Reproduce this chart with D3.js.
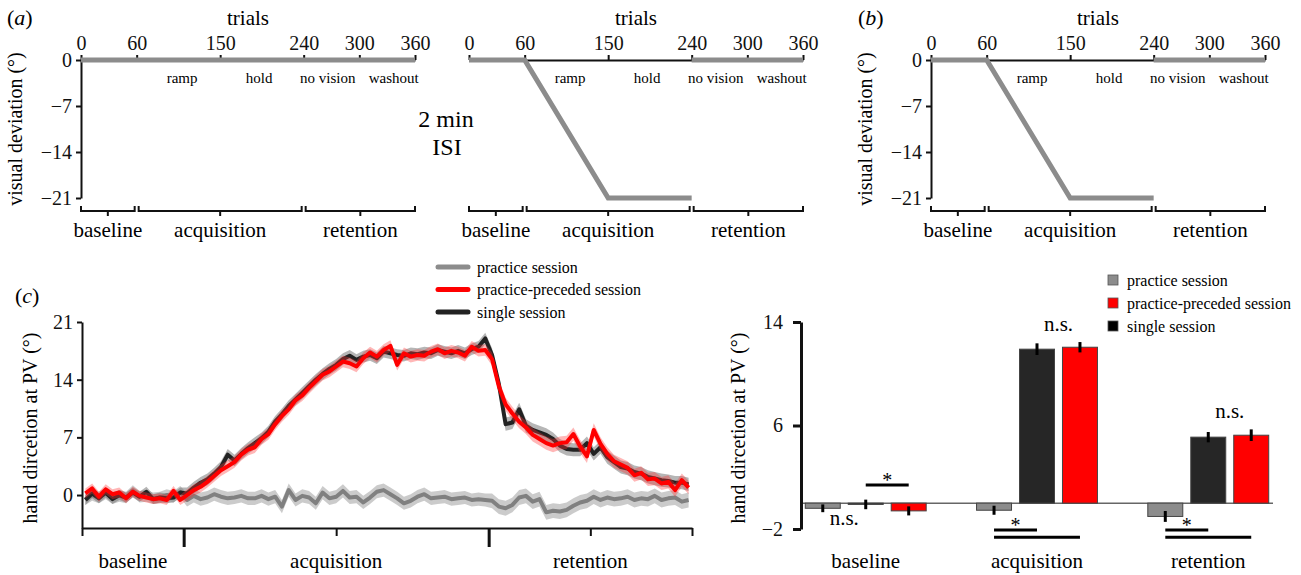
<!DOCTYPE html>
<html>
<head>
<meta charset="utf-8">
<script src="https://cdn.jsdelivr.net/npm/d3@7"></script>
<style>
  body { margin: 0; background: #fff; }
  svg { display: block; font-family: 'Liberation Serif', 'DejaVu Serif', serif; }
</style>
</head>
<body>
<div id="fig"></div>
<script>
// ---------- data ----------
const trialTicks = [0, 60, 150, 240, 300, 360];
const devTicks = [0, -7, -14, -21];
const phaseNames = ["ramp", "hold", "no vision", "washout"];
const phaseAt = [109, 192, 266, 337];          // trial under which each phase name sits
const blockNames = ["baseline", "acquisition", "retention"];
const blockEdges = [0, 60, 240, 360];
const blockMid = [30, 150, 300];

// visual deviation schedules (trial, degrees)
const flatTrials = [0, 360];
const flatDev = [0, 0];
const rampTrials = [0, 60, 150, 240];
const rampDev = [0, 0, -21, -21];
const washTrials = [240, 360];
const washDev = [0, 0];

// hand direction at PV, 4-trial bins (90 bins over 360 trials)
const binSize = 4;
const practice = [
  -0.5, 0.0, -0.3, 0.2, -0.4, -0.1, -0.3, 0.5, -0.2, -0.1, -0.4, -0.3, 0.0, -0.2, 0.4,
  -0.6, -0.1, -0.5, -0.3, 0.1, -0.2, -0.4, -0.3, -0.1, -0.4, -0.4, -0.1, -0.5, -0.2, -1.4, 0.6, -0.6, -0.1, -0.3, -1.0, 0.3, -0.4,
  -0.2, 0.5, -0.3, -0.2, -0.9, -0.3, 0.4, 0.6, 0.1, -0.4, -1.0, -0.7, -0.2, 0.1, -0.4, -0.3, -0.2, -0.5, -0.4, -0.3, -0.6, -0.5, -0.6,
  -0.7, -1.4, -1.6, -1.2, -0.3, -0.1, -0.8, -0.5, -2.1, -1.9, -2.0, -1.8, -1.3, -0.9, -0.7, -0.2, -0.6, -0.3, -0.5, -0.4, -0.2, -0.6, -0.4, -0.5, -0.1, -0.6, -0.4, -0.3, -0.8, -0.6
];
const single = [
  -0.6, 0.2, -0.4, 0.3, -0.5, 0.0, -0.3, 0.3, -0.2, 0.4, -0.5, -0.3, -0.4, -0.3, 0.3,
  0.2, 0.9, 1.5, 1.9, 2.6, 3.4, 4.9, 4.2, 5.0, 5.7, 6.3, 6.9, 7.7, 8.9, 9.8, 10.8, 11.6, 12.4, 13.2, 14.0, 14.7, 15.3,
  15.8, 16.5, 16.9, 16.4, 16.8, 17.0, 16.6, 17.4, 17.2, 17.0, 16.9, 17.2, 17.1, 17.3, 17.2, 17.6, 17.4, 17.2, 17.5, 17.2, 17.7, 18.0, 19.0,
  17.0, 13.5, 8.6, 8.8, 10.4, 8.4, 7.9, 7.6, 7.3, 6.8, 6.0, 5.6, 5.5, 5.5, 6.3, 5.0, 5.8, 4.6, 4.0, 3.4, 3.2, 2.8, 2.6, 2.2, 2.0, 1.8, 1.7, 1.5, 1.5, 1.3
];
const preceded = [
  0.2, 0.8, -0.2, 0.7, 0.1, 0.3, -0.4, 0.4, -0.1, -0.3, -0.5, -0.4, -0.6, 0.5, -0.6,
  0.0, 0.6, 1.0, 1.6, 2.3, 3.0, 3.5, 4.0, 4.9, 5.5, 5.8, 6.8, 7.4, 8.6, 9.6, 10.4, 11.5, 12.1, 13.0, 13.8, 14.6, 15.0,
  15.6, 16.2, 16.0, 15.6, 16.6, 17.3, 16.8, 17.6, 18.1, 15.8, 17.2, 16.8, 17.0, 16.9, 17.4, 17.7, 17.2, 17.5, 17.3, 16.9, 18.0, 17.5, 17.6,
  16.5, 13.2, 11.0, 9.9, 8.9, 8.2, 7.3, 6.8, 6.3, 6.0, 6.3, 6.4, 7.4, 5.9, 4.7, 7.9, 6.2, 5.0, 4.1, 3.7, 3.3, 2.4, 2.7, 1.9, 2.0, 1.4, 1.6, 0.6, 1.8, 0.9
];
// SEM per block (baseline, acquisition, retention)
const semPractice = [0.7, 0.8, 0.9];
const semSingle = [0.6, 0.7, 0.8];
const semPreceded = [0.6, 0.7, 0.8];

// bar chart: block means and SEM
const sessionNames = ["practice session", "practice-preceded session", "single session"];
const barOrder = ["practice session", "single session", "practice-preceded session"];
const barPractice = [-0.4, -0.55, -1.03];
const barSingle = [-0.1, 11.9, 5.1];
const barPreceded = [-0.6, 12.05, 5.25];
const errPractice = [0.3, 0.35, 0.42];
const errSingle = [0.37, 0.45, 0.4];
const errPreceded = [0.35, 0.4, 0.45];
const barTicks = [-2, 6, 14];

// significance marks: block, from session, to session, level (deg)
const sigLines = [
  { block: "baseline", a: "single session", b: "practice-preceded session", level: 1.4, star: true },
  { block: "acquisition", a: "practice session", b: "single session", level: -2.08, star: true },
  { block: "acquisition", a: "practice session", b: "practice-preceded session", level: -2.63, star: false },
  { block: "retention", a: "practice session", b: "single session", level: -2.08, star: true },
  { block: "retention", a: "practice session", b: "practice-preceded session", level: -2.63, star: false }
];
const nsMarks = [
  { block: "baseline", a: "practice session", b: "single session", level: -1.7 },
  { block: "acquisition", a: "single session", b: "practice-preceded session", level: 13.3 },
  { block: "retention", a: "single session", b: "practice-preceded session", level: 6.6 }
];

// ---------- drawing ----------
const W = 1301, H = 575;
const color = {
  "practice session": "#8c8c8c",
  "practice-preceded session": "#ff0000",
  "single session": "#262626"
};
const serif = "'Liberation Serif', 'DejaVu Serif', serif";

const svg = d3.select("#fig").append("svg")
  .attr("width", W).attr("height", H)
  .attr("viewBox", `0 0 ${W} ${H}`)
  .style("font-family", serif);

const styleAxis = (sel, w) => {
  sel.attr("font-family", null);
  sel.selectAll("path, line").attr("stroke", "#111").attr("stroke-width", w);
  sel.selectAll("text").attr("fill", "#111");
};

// top schedule panels
function schedulePanel(x0, segs, withYAxis) {
  const x = d3.scaleLinear().domain([0, 360]).range([x0, x0 + 334]);
  const y = d3.scaleLinear().domain([-21, 0]).range([198, 60]);
  const g = svg.append("g");

  const top = g.append("g")
    .attr("transform", `translate(0, ${y(0)})`)
    .call(d3.axisTop(x).tickValues(trialTicks).tickSize(5).tickSizeOuter(0).tickPadding(5));
  styleAxis(top, 2);
  top.attr("font-size", 20);

  g.append("text")
    .attr("x", x(180)).attr("y", 25)
    .attr("text-anchor", "middle").attr("font-size", 21)
    .text("trials");

  if (withYAxis) {
    const left = g.append("g")
      .attr("transform", `translate(${x(0)}, 0)`)
      .call(d3.axisLeft(y).tickValues(devTicks).tickSize(5).tickSizeOuter(0).tickPadding(4));
    styleAxis(left, 2);
    left.attr("font-size", 20);

    g.append("text")
      .attr("transform", `translate(${x0 - 66}, ${y(-10.5)}) rotate(-90)`)
      .attr("text-anchor", "middle").attr("dominant-baseline", "central")
      .attr("font-size", 20)
      .text("visual deviation (°)");
  }

  const line = d3.line().x(d => x(d[0])).y(d => y(d[1]));
  segs.forEach(([ts, ds]) => {
    g.append("path")
      .attr("d", line(ts.map((t, i) => [t, ds[i]])))
      .attr("fill", "none").attr("stroke", "#8c8c8c").attr("stroke-width", 5);
  });

  g.selectAll("text.phase")
    .data(phaseNames)
    .join("text")
    .attr("class", "phase")
    .attr("x", (d, i) => x(phaseAt[i])).attr("y", 83)
    .attr("text-anchor", "middle").attr("font-size", 15)
    .text(d => d);

  // block brackets
  blockNames.forEach((name, i) => {
    const a = x(blockEdges[i]) + (i > 0 ? 2 : 0);
    const b = x(blockEdges[i + 1]) - (i < 2 ? 2 : 0);
    const m = (a + b) / 2;
    g.append("path")
      .attr("d", `M${a},206V211H${b}V206M${m},211V216`)
      .attr("fill", "none").attr("stroke", "#111").attr("stroke-width", 2);
    g.append("text")
      .attr("x", m).attr("y", 237)
      .attr("text-anchor", "middle").attr("font-size", 21)
      .text(name);
  });
}

schedulePanel(81, [[flatTrials, flatDev]], true);
schedulePanel(469, [[rampTrials, rampDev], [washTrials, washDev]], false);
schedulePanel(931, [[rampTrials, rampDev], [washTrials, washDev]], true);

const panelLabel = (letter, x, y) => {
  const t = svg.append("text").attr("x", x).attr("y", y).attr("font-size", 22);
  t.append("tspan").text("(");
  t.append("tspan").attr("font-style", "italic").text(letter);
  t.append("tspan").text(")");
};
panelLabel("a", 7, 25);
panelLabel("b", 858, 25);
panelLabel("c", 15, 303);

svg.append("text").attr("x", 446).attr("y", 127)
  .attr("text-anchor", "middle").attr("font-size", 24).text("2 min");
svg.append("text").attr("x", 447).attr("y", 155)
  .attr("text-anchor", "middle").attr("font-size", 24).text("ISI");

// ---------- (c) line chart ----------
const xL = d3.scaleLinear().domain([0, 360]).range([82, 692]);
const yL = d3.scaleLinear().domain([-4, 21]).range([528, 322]);
const blockOf = t => (t < 60 ? 0 : t < 240 ? 1 : 2);
const rows = (vals, sem) => vals.map((v, i) => {
  const t = i * binSize + binSize / 2;
  return { t, v, s: sem[blockOf(t)] };
});

const lineSeries = [
  { key: "practice session", rows: rows(practice, semPractice), line: "#808080", band: "#c2c2c2", op: 0.85 },
  { key: "single session", rows: rows(single, semSingle), line: "#222", band: "#7a7a7a", op: 0.55 },
  { key: "practice-preceded session", rows: rows(preceded, semPreceded), line: "#ff0000", band: "#ff3030", op: 0.35 }
];

const gl = svg.append("g");
const area = d3.area().x(d => xL(d.t)).y0(d => yL(d.v - d.s)).y1(d => yL(d.v + d.s));
const ln = d3.line().x(d => xL(d.t)).y(d => yL(d.v));

lineSeries.forEach(s => {
  gl.append("path").attr("d", area(s.rows)).attr("fill", s.band).attr("opacity", s.op);
  gl.append("path").attr("d", ln(s.rows))
    .attr("fill", "none").attr("stroke", s.line).attr("stroke-width", 4)
    .attr("stroke-linejoin", "round");
});

const yAx = gl.append("g")
  .attr("transform", `translate(${xL(0)}, 0)`)
  .call(d3.axisLeft(yL).tickValues([0, 7, 14, 21]).tickSize(5).tickSizeOuter(0).tickPadding(4));
styleAxis(yAx, 2);
yAx.attr("font-size", 20);

const xMinor = gl.append("g")
  .attr("transform", `translate(0, ${yL(-4)})`)
  .call(d3.axisBottom(xL).tickValues([0, 150, 300, 360]).tickSize(8).tickSizeOuter(0).tickFormat(""));
styleAxis(xMinor, 2);
const xMajor = gl.append("g")
  .attr("transform", `translate(0, ${yL(-4)})`)
  .call(d3.axisBottom(xL).tickValues([60, 240]).tickSize(19).tickSizeOuter(0).tickFormat(""));
styleAxis(xMajor, 3);
xMajor.select(".domain").remove();

gl.selectAll("text.blk")
  .data(blockNames)
  .join("text")
  .attr("class", "blk")
  .attr("x", (d, i) => xL(blockMid[i])).attr("y", 568)
  .attr("text-anchor", "middle").attr("font-size", 21)
  .text(d => d);

gl.append("text")
  .attr("transform", `translate(30, 428) rotate(-90)`)
  .attr("text-anchor", "middle").attr("dominant-baseline", "central")
  .attr("font-size", 20)
  .text("hand dircetion at PV (°)");

// legend for line chart
const legL = gl.append("g").attr("transform", "translate(438, 267)");
sessionNames.forEach((k, i) => {
  const row = legL.append("g").attr("transform", `translate(0, ${i * 22.5})`);
  row.append("line").attr("x1", 0).attr("x2", 30)
    .attr("stroke", k === "single session" ? "#222" : color[k])
    .attr("stroke-width", 5).attr("stroke-linecap", "round");
  row.append("text").attr("x", 39).attr("y", 0).attr("dominant-baseline", "central")
    .attr("font-size", 16).text(k);
});

// ---------- bar chart ----------
const byBlock = {
  "practice session": { v: barPractice, e: errPractice },
  "single session": { v: barSingle, e: errSingle },
  "practice-preceded session": { v: barPreceded, e: errPreceded }
};
const xB = d3.scaleBand().domain(blockNames).range([801, 1273]).paddingInner(0.294).paddingOuter(0.025);
const xS = d3.scaleBand().domain(barOrder).range([0, xB.bandwidth()]).paddingInner(0.186);
const yB = d3.scaleLinear().domain([-2, 14]).range([529, 322]);
const gb = svg.append("g");
const barCx = (blk, key) => xB(blk) + xS(key) + xS.bandwidth() / 2;

const bars = [];
blockNames.forEach((blk, bi) => barOrder.forEach(key => {
  bars.push({ blk, key, v: byBlock[key].v[bi], e: byBlock[key].e[bi] });
}));

gb.append("line")
  .attr("x1", 801).attr("x2", 1273).attr("y1", yB(0)).attr("y2", yB(0))
  .attr("stroke", "#666").attr("stroke-width", 1.5);

gb.selectAll("rect.bar")
  .data(bars)
  .join("rect")
  .attr("class", "bar")
  .attr("x", d => xB(d.blk) + xS(d.key))
  .attr("width", xS.bandwidth())
  .attr("y", d => yB(Math.max(0, d.v)))
  .attr("height", d => Math.abs(yB(d.v) - yB(0)))
  .attr("fill", d => color[d.key])
  .attr("stroke", "#444").attr("stroke-width", 1);

gb.selectAll("line.err")
  .data(bars)
  .join("line")
  .attr("class", "err")
  .attr("x1", d => barCx(d.blk, d.key)).attr("x2", d => barCx(d.blk, d.key))
  .attr("y1", d => yB(d.v - d.e)).attr("y2", d => yB(d.v + d.e))
  .attr("stroke", "#000").attr("stroke-width", 3);

const yBx = gb.append("g")
  .attr("transform", "translate(801, 0)")
  .call(d3.axisLeft(yB).tickValues(barTicks).tickSize(8).tickSizeOuter(0).tickPadding(10));
styleAxis(yBx, 3);
yBx.attr("font-size", 20);

gb.selectAll("line.sig")
  .data(sigLines)
  .join("line")
  .attr("class", "sig")
  .attr("x1", d => barCx(d.block, d.a)).attr("x2", d => barCx(d.block, d.b))
  .attr("y1", d => yB(d.level)).attr("y2", d => yB(d.level))
  .attr("stroke", "#000").attr("stroke-width", 3);

gb.selectAll("text.star")
  .data(sigLines.filter(d => d.star))
  .join("text")
  .attr("class", "star")
  .attr("x", d => (barCx(d.block, d.a) + barCx(d.block, d.b)) / 2)
  .attr("y", d => yB(d.level) + 2)
  .attr("text-anchor", "middle").attr("font-size", 20)
  .text("*");

gb.selectAll("text.ns")
  .data(nsMarks)
  .join("text")
  .attr("class", "ns")
  .attr("x", d => (barCx(d.block, d.a) + barCx(d.block, d.b)) / 2)
  .attr("y", d => yB(d.level))
  .attr("text-anchor", "middle").attr("font-size", 21)
  .text("n.s.");

gb.selectAll("text.cat")
  .data(blockNames)
  .join("text")
  .attr("class", "cat")
  .attr("x", d => xB(d) + xB.bandwidth() / 2).attr("y", 568)
  .attr("text-anchor", "middle").attr("font-size", 21)
  .text(d => d);

gb.append("text")
  .attr("transform", "translate(738, 428) rotate(-90)")
  .attr("text-anchor", "middle").attr("dominant-baseline", "central")
  .attr("font-size", 20)
  .text("hand dircetion at PV (°)");

const legB = gb.append("g").attr("transform", "translate(1108, 280)");
sessionNames.forEach((k, i) => {
  const row = legB.append("g").attr("transform", `translate(0, ${i * 23})`);
  row.append("rect").attr("x", 0).attr("y", -5).attr("width", 10).attr("height", 10)
    .attr("fill", k === "single session" ? "#000" : color[k]).attr("stroke", "#555").attr("stroke-width", 0.8);
  row.append("text").attr("x", 19).attr("y", 0).attr("dominant-baseline", "central")
    .attr("font-size", 16).text(k);
});
</script>
</body>
</html>
